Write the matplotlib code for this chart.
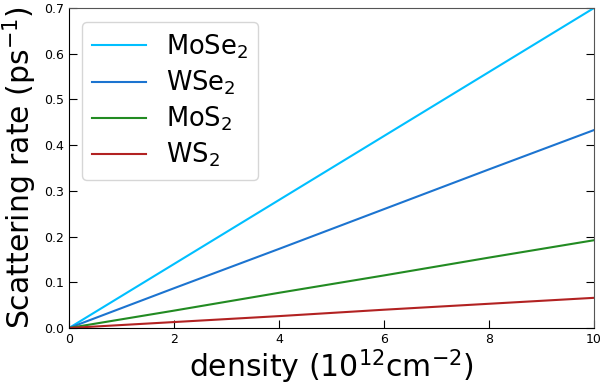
import numpy as np
import matplotlib
matplotlib.use("Agg")
import matplotlib.pyplot as plt

# data
density = [0, 2, 4, 6, 8, 10]
mose2 = [0, 0.140, 0.280, 0.420, 0.560, 0.700]
wse2 = [0, 0.087, 0.173, 0.260, 0.347, 0.433]
mos2 = [0, 0.038, 0.077, 0.115, 0.154, 0.192]
ws2 = [0, 0.013, 0.026, 0.040, 0.053, 0.066]

fig = plt.figure(figsize=(6.01, 3.85), dpi=100)
ax = fig.add_axes([69 / 601, 57 / 385, 525 / 601, 320 / 385])

ax.plot(density, mose2, color="#00BFFF", lw=1.5, label="MoSe$_2$")
ax.plot(density, wse2, color="#1C74D0", lw=1.5, label="WSe$_2$")
ax.plot(density, mos2, color="#228B22", lw=1.5, label="MoS$_2$")
ax.plot(density, ws2, color="#B22222", lw=1.5, label="WS$_2$")

ax.set_xlim(0, 10)
ax.set_ylim(0, 0.7)
ax.set_xticks([0, 2, 4, 6, 8, 10])
ax.set_yticks(np.arange(0, 0.71, 0.1))
ax.tick_params(direction="in", length=6, labelsize=9, right=True, top=False)
ax.spines["top"].set_color("#555555")
ax.spines["right"].set_color("#555555")

ax.set_xlabel("density ($10^{12}$cm$^{-2}$)", fontsize=21.5, labelpad=1)
ax.set_ylabel("Scattering rate (ps$^{-1}$)", fontsize=21.5, labelpad=4)

ax.legend(loc="upper left", fontsize=18.5, handlelength=2.1, handletextpad=0.75,
          borderpad=0.4, labelspacing=0.3, borderaxespad=0,
          bbox_to_anchor=(0.025, 0.956))

fig.savefig("out.png", dpi=100)
